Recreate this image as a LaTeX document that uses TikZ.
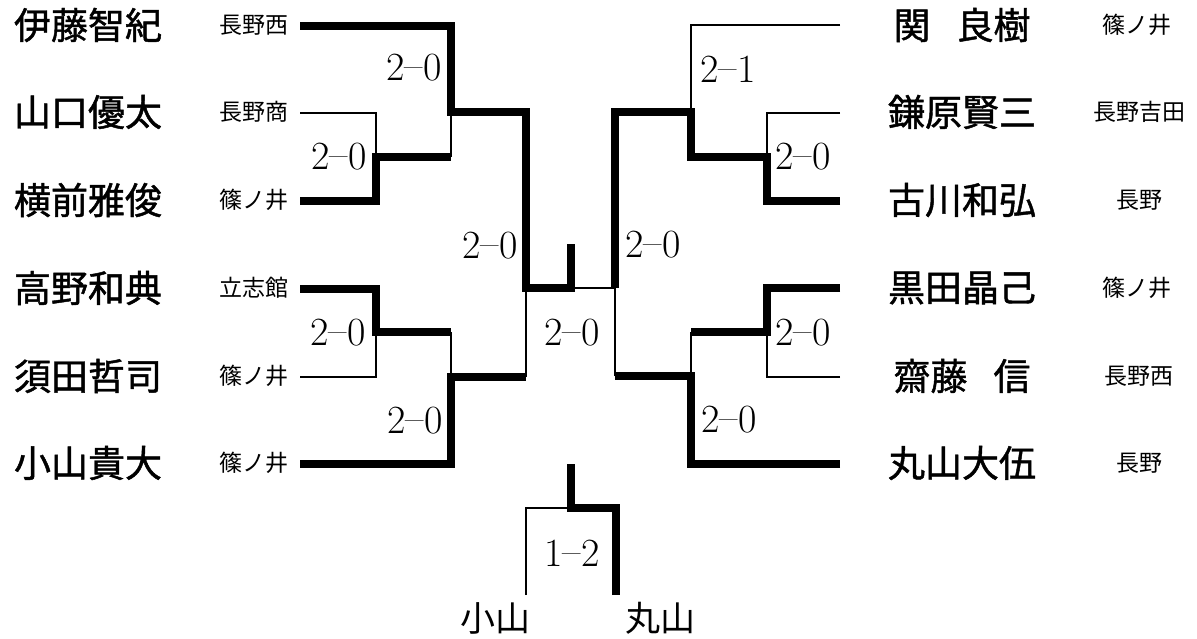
\documentclass[tikz,border=0pt]{standalone}
\usepackage{fontspec}
\newfontfamily\namefont{Noto Sans CJK JP}[FakeBold=1.2]
\newfontfamily\schoolfont{Noto Sans CJK JP}
\newcommand{\sdash}{\raisebox{2pt}{--}}
\tikzset{
  pname/.style={font=\namefont\fontsize{37}{40}\selectfont, inner sep=0pt},
  school/.style={font=\schoolfont\fontsize{23}{25}\selectfont, inner sep=0pt},
  score/.style={font=\fontsize{40}{44}\selectfont, inner sep=0pt},
  bottomname/.style={font=\schoolfont\fontsize{35}{38}\selectfont, inner sep=0pt},
  wline/.style={line width=8pt, line join=miter},
  lline/.style={line width=2.8pt},
}
\begin{document}
\begin{tikzpicture}[x=1pt,y=-1pt]
\useasboundingbox (0,0) rectangle (1197,639);
% left players
\node[pname] (n1) at (88,25) {伊藤智紀};
\node[pname] (n2) at (88,112) {山口優太};
\node[pname] (n3) at (88,200) {横前雅俊};
\node[pname] (n4) at (88,288) {高野和典};
\node[pname] (n5) at (88,376) {須田哲司};
\node[pname] (n6) at (88,463) {小山貴大};
\node[school] (s1) at (254,25) {長野西};
\node[school] (s2) at (254,112) {長野商};
\node[school] (s3) at (254,200) {篠ノ井};
\node[school] (s4) at (254,288) {立志館};
\node[school] (s5) at (254,376) {篠ノ井};
\node[school] (s6) at (254,463) {篠ノ井};
% right players
\node[pname] (m1) at (962,25) {関\hspace{26pt}良樹};
\node[pname] (m2) at (962,112) {鎌原賢三};
\node[pname] (m3) at (962,200) {古川和弘};
\node[pname] (m4) at (962,288) {黒田晶己};
\node[pname] (m5) at (962,376) {齋藤\hspace{26pt}信};
\node[pname] (m6) at (962,463) {丸山大伍};
\node[school] (t1) at (1137,25) {篠ノ井};
\node[school] (t2) at (1139,112) {長野吉田};
\node[school] (t3) at (1139,200) {長野};
\node[school] (t4) at (1137,288) {篠ノ井};
\node[school] (t5) at (1139,376) {長野西};
\node[school] (t6) at (1139,463) {長野};
% coordinates
\coordinate (p1) at (300,26);
\coordinate (p2) at (300,113);
\coordinate (p3) at (300,201);
\coordinate (p4) at (300,289);
\coordinate (p5) at (300,377);
\coordinate (p6) at (300,464);
\coordinate (r1) at (840,25);
\coordinate (r2) at (840,113);
\coordinate (r3) at (840,201);
\coordinate (r4) at (840,288);
\coordinate (r5) at (840,377);
\coordinate (r6) at (840,464);
\coordinate (qa) at (376,157);
\coordinate (qb) at (451,112);
\coordinate (qc) at (376,332);
\coordinate (qd) at (451,377);
\coordinate (sl) at (526,288);
\coordinate (fin) at (571,288);
\coordinate (top) at (571,244);
\coordinate (ra) at (767,157);
\coordinate (rb) at (691,112);
\coordinate (rc) at (767,332);
\coordinate (rd) at (691,376);
\coordinate (sr) at (615,288);
\coordinate (tl) at (526,595);
\coordinate (tr) at (616,595);
\coordinate (tm) at (571,508);
\coordinate (tt) at (571,464);
% left bracket
\draw[lline] (p2) -| (qa);
\draw[lline] (qa -| qb) -- (qb);
\draw[lline] (p5) -| (qc);
\draw[lline] (qc -| qd) -- (qd);
\draw[lline] (qd -| sl) -- (sl);
\draw[wline] (p3) -| (qa) -- (qa -| qb);
\draw[wline] (p4) -| (qc) -- (qc -| qd);
\draw[wline] (p6) -| (qd) -- (qd -| sl);
\draw[wline] (p1) -| (qb) -| (sl) -- (fin) -- (top);
% final
\draw[lline] (fin) -- (sr);
% right bracket
\draw[lline] (r1) -| (rb);
\draw[lline] (r2) -| (ra);
\draw[lline] (r5) -| (rc);
\draw[lline] (rc -| rd) -- (rd);
\draw[lline] (rd -| sr) -- (sr);
\draw[wline] (r4) -| (rc) -- (rc -| rd);
\draw[wline] (r6) -| (rd) -- (rd -| sr);
\draw[wline] (r3) -| (ra) -| (rb) -| (sr);
% third place
\draw[lline] (tl) |- (tm);
\draw[wline] (tr) |- (tm) -- (tt);
% scores
\node[score] (c1) at (414,68) {2\sdash0};
\node[score] (c2) at (339,157) {2\sdash0};
\node[score] (c3) at (338,333) {2\sdash0};
\node[score] (c4) at (415,421) {2\sdash0};
\node[score] (c5) at (490,246) {2\sdash0};
\node[score] (c6) at (572,333) {2\sdash0};
\node[score] (c7) at (728,69) {2\sdash1};
\node[score] (c8) at (803,157) {2\sdash0};
\node[score] (c9) at (653,245) {2\sdash0};
\node[score] (c10) at (803,333) {2\sdash0};
\node[score] (c11) at (729,420) {2\sdash0};
\node[score] (c12) at (572,553) {1\sdash2};
\node[bottomname] (b1) at (495,618) {小山};
\node[bottomname] (b2) at (660,618) {丸山};
\end{tikzpicture}
\end{document}
